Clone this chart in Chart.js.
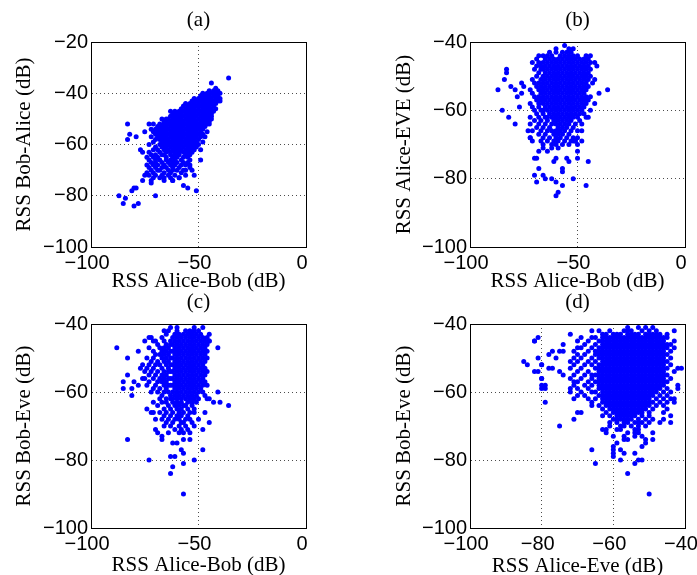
<!DOCTYPE html>
<html><head><meta charset="utf-8">
<script src="https://cdn.jsdelivr.net/npm/chart.js@4/dist/chart.umd.min.js"></script>
<style>
html,body{margin:0;padding:0;background:#fff;overflow:hidden;width:697px;height:575px;position:relative;}
canvas{position:absolute;}
</style></head><body>
<canvas id="pa" width="348" height="300" style="left:0px;top:0px"></canvas>
<canvas id="pb" width="349" height="300" style="left:348px;top:0px"></canvas>
<canvas id="pc" width="348" height="300" style="left:0px;top:280px"></canvas>
<canvas id="pd" width="349" height="300" style="left:348px;top:280px"></canvas>
<script>
// ---------- data (dB) ----------
const panelTitles = ['(a)', '(b)', '(c)', '(d)'];
const xAxisLabels = ['RSS Alice-Bob (dB)', 'RSS Alice-Bob (dB)', 'RSS Alice-Bob (dB)', 'RSS Alice-Eve (dB)'];
const yAxisLabels = ['RSS Bob-Alice (dB)', 'RSS Alice-EVE (dB)', 'RSS Bob-Eve (dB)', 'RSS Bob-Eve (dB)'];
const xRanges = [[-100, 0, 50], [-100, 0, 50], [-100, 0, 50], [-100, -40, 20]];
const yRanges = [[-100, -20, 20], [-100, -40, 20], [-100, -40, 20], [-100, -40, 20]];

// (a) Alice-Bob vs Bob-Alice : rows of [y, x values]
const coreRowsA = [
 [-39,[-45,-43,-41]],
 [-40,[-48,-46,-44,-42,-40]],
 [-41,[-49,-47,-45,-43,-41]],
 [-42,[-52,-50,-48,-46,-44,-42,-40]],
 [-43,[-53,-51,-49,-47,-45,-43,-41]],
 [-44,[-56,-54,-52,-50,-48,-46,-44,-42]],
 [-45,[-57,-55,-53,-51,-49,-47,-45,-43]],
 [-46,[-58,-56,-54,-52,-50,-48,-46,-44,-42]],
 [-47,[-61,-59,-57,-55,-53,-51,-49,-47,-45,-43]],
 [-48,[-62,-60,-58,-56,-54,-52,-50,-48,-46,-44]],
 [-49,[-63,-61,-59,-57,-55,-53,-51,-49,-47,-45]],
 [-50,[-67,-64,-62,-60,-58,-56,-54,-52,-50,-48,-46,-44]],
 [-51,[-66,-65,-63,-61,-59,-57,-55,-53,-51,-49,-47,-45]],
 [-52,[-71,-68,-66,-64,-62,-60,-58,-56,-54,-52,-50,-48,-46]],
 [-53,[-69,-67,-65,-63,-61,-59,-57,-55,-53,-51,-49,-47]],
 [-54,[-72,-70,-68,-66,-64,-62,-60,-58,-56,-54,-52,-50,-48]],
 [-55,[-71,-69,-67,-65,-63,-61,-59,-57,-55,-53,-51,-49]],
 [-56,[-70,-68,-66,-64,-62,-60,-58,-56,-54,-52,-50,-48]],
 [-57,[-72,-69,-67,-65,-63,-61,-59,-57,-55,-53,-51,-49]],
 [-58,[-70,-68,-66,-64,-62,-60,-58,-56,-54,-52,-50]],
 [-59,[-71,-67,-65,-63,-61,-59,-57,-55,-53,-51]],
 [-60,[-73,-68,-66,-64,-62,-60,-58,-56,-54,-52,-50]],
 [-61,[-70,-67,-65,-63,-61,-59,-57,-55,-53,-51]],
 [-62,[-71,-69,-66,-64,-62,-60,-58,-56,-54,-52]],
 [-63,[-73,-68,-65,-63,-61,-59,-57,-55,-53]],
 [-64,[-72,-70,-67,-66,-63,-61,-59,-56,-54]],
 [-65,[-74,-71,-69,-65,-62,-60,-57,-55]],
 [-66,[-73,-70,-68,-65,-63,-61,-58,-54]],
 [-67,[-72,-70,-67,-64,-62,-60,-57,-55]],
 [-68,[-74,-71,-69,-66,-63,-61,-58,-56,-54]],
 [-69,[-73,-70,-67,-65,-62,-59]],
 [-70,[-72,-69,-68,-64,-62,-60,-57,-56]],
 [-71,[-74,-71,-66,-63,-58]],
 [-72,[-73,-70,-67,-64,-61,-56]],
 [-73,[-71,-68,-63,-59]],
 [-74,[-72,-66,-62]]
];
const scatterA = [[-36,-34],[-44,-36],[-40,-43],[-42,-38],[-83,-52],[-82,-56],[-83,-58],[-79,-57],[-75,-55],[-73,-52],
 [-77,-62],[-76,-63],[-87,-80],[-84,-81],[-85,-83],[-80,-84],[-78,-83],[-81,-78],[-80,-77],[-79,-77],[-70,-80],
 [-76,-74],[-75,-72],[-57,-76],[-55,-77],[-51,-78],[-62,-74],[-72,-75],[-66,-73],[-49,-66],[-49,-62],[-48,-59],
 [-54,-69],[-53,-70],[-45,-52],[-46,-55],[-47,-57],[-63,-47],[-65,-50],[-44,-49],[-52,-72],[-59,-73]];

// (b) Alice-Bob vs Alice-EVE
const coreRowsB = [
 [-42,[-60,-54,-52]],
 [-43,[-63,-57,-55,-53]],
 [-44,[-68,-66,-62,-58,-56,-54,-52,-50,-46]],
 [-45,[-69,-65,-63,-61,-59,-57,-55,-53,-51,-49,-47,-45]],
 [-46,[-71,-68,-66,-64,-62,-60,-58,-56,-54,-52,-50,-48,-46,-44]],
 [-47,[-69,-67,-65,-63,-61,-59,-57,-55,-53,-51,-49,-47,-45]],
 [-48,[-70,-67,-66,-64,-62,-60,-58,-56,-54,-52,-50,-48,-46,-44]],
 [-49,[-68,-65,-63,-61,-59,-57,-55,-53,-51,-49,-47,-45]],
 [-50,[-69,-66,-64,-62,-60,-58,-56,-54,-52,-50,-48,-46,-44]],
 [-51,[-71,-67,-65,-63,-61,-59,-57,-55,-53,-51,-49,-47,-45]],
 [-52,[-70,-68,-66,-64,-62,-60,-58,-56,-54,-52,-50,-48,-46,-43]],
 [-53,[-69,-67,-65,-63,-61,-59,-57,-55,-53,-51,-49,-47,-45]],
 [-54,[-72,-68,-66,-64,-62,-60,-58,-56,-54,-52,-50,-48,-46]],
 [-55,[-71,-67,-65,-63,-61,-59,-57,-55,-53,-51,-49,-47]],
 [-56,[-70,-68,-66,-64,-62,-60,-58,-56,-54,-52,-50,-48,-46,-44]],
 [-57,[-69,-67,-65,-63,-61,-59,-57,-55,-53,-51,-49,-47,-45]],
 [-58,[-72,-68,-66,-64,-62,-60,-58,-56,-54,-52,-50,-48,-46]],
 [-59,[-71,-68,-65,-63,-61,-59,-57,-55,-53,-51,-49,-47]],
 [-60,[-70,-67,-66,-64,-62,-60,-58,-56,-54,-52,-50,-48,-44]],
 [-61,[-69,-66,-63,-61,-59,-57,-55,-53,-51,-49,-47]],
 [-62,[-72,-68,-65,-64,-62,-60,-58,-56,-54,-52,-50,-46]],
 [-63,[-70,-67,-64,-61,-59,-57,-55,-53,-49]],
 [-64,[-72,-68,-65,-62,-60,-58,-56,-54,-51,-48]],
 [-65,[-69,-66,-63,-59,-57,-55,-52]],
 [-66,[-71,-67,-64,-62,-60,-58,-56,-53,-50]],
 [-67,[-68,-65,-61,-59,-57,-54]],
 [-68,[-72,-66,-63,-60,-58,-55,-52]],
 [-69,[-67,-64,-61,-59,-56,-53,-51]],
 [-70,[-66,-62,-60,-57,-54,-50]]
];
const scatterB = [[-56,-41],[-87,-54],[-85,-60],[-83,-48],[-83,-49],[-84,-51],[-81,-53],[-79,-54],[-82,-62],[-79,-64],
 [-77,-59],[-78,-56],[-76,-55],[-75,-53],[-76,-52],[-73,-66],[-71,-69],[-72,-68],[-36,-54],[-40,-55],[-42,-51],
 [-41,-47],[-42,-58],[-45,-62],[-48,-66],[-48,-69],[-45,-75],[-46,-82],[-52,-80],[-50,-72],[-50,-74],[-60,-85],
 [-59,-84],[-57,-82],[-60,-81],[-62,-80],[-69,-81],[-70,-79],[-66,-79],[-65,-80],[-68,-77],[-57,-77],[-57,-78],
 [-60,-74],[-61,-75],[-70,-74],[-69,-74],[-68,-72],[-55,-74],[-54,-75],[-66,-71],[-64,-72],[-62,-71],[-59,-71],
 [-52,-69],[-51,-69],[-50,-68],[-64,-44],[-60,-43],[-44,-44],[-42,-46]];

// (c) Alice-Bob vs Bob-Eve
const coreRowsC = [
 [-42,[-66,-64,-60,-56,-54,-52,-50]],
 [-43,[-65,-61,-59,-57,-55,-53,-51,-49]],
 [-44,[-72,-67,-62,-60,-58,-56,-54,-52,-50,-48,-46]],
 [-45,[-70,-66,-63,-61,-59,-57,-55,-53,-51,-49,-47,-45]],
 [-46,[-69,-65,-63,-62,-60,-58,-56,-54,-52,-50,-48,-46]],
 [-47,[-73,-68,-66,-64,-61,-59,-57,-55,-53,-51,-49,-47]],
 [-48,[-71,-67,-65,-63,-62,-60,-58,-56,-54,-52,-50,-48,-46]],
 [-49,[-70,-68,-66,-64,-61,-59,-57,-55,-53,-51,-49,-47]],
 [-50,[-74,-71,-67,-65,-63,-62,-60,-58,-56,-54,-52,-50,-48,-46]],
 [-51,[-72,-69,-66,-64,-61,-59,-57,-55,-53,-51,-49,-47]],
 [-52,[-76,-73,-70,-68,-65,-63,-62,-60,-58,-56,-54,-52,-50,-48]],
 [-53,[-74,-71,-67,-64,-61,-59,-57,-55,-53,-51,-49,-47]],
 [-54,[-75,-72,-69,-66,-64,-63,-62,-60,-58,-56,-54,-52,-50,-48,-46]],
 [-55,[-73,-70,-67,-65,-61,-59,-57,-55,-53,-51,-49,-47]],
 [-56,[-76,-71,-68,-66,-64,-63,-62,-60,-58,-56,-54,-52,-50,-48]],
 [-57,[-73,-69,-67,-65,-61,-59,-57,-55,-53,-51,-49,-47]],
 [-58,[-74,-70,-66,-64,-63,-62,-60,-58,-56,-54,-52,-50,-48,-46]],
 [-59,[-71,-68,-65,-61,-59,-57,-55,-53,-51,-49]],
 [-60,[-72,-69,-66,-64,-62,-60,-58,-56,-54,-52,-50,-48]],
 [-61,[-67,-63,-61,-59,-57,-55,-53,-51,-47]],
 [-62,[-68,-65,-63,-62,-60,-58,-56,-54,-52,-50,-46]],
 [-63,[-67,-65,-62,-60,-58,-55,-53,-51]],
 [-64,[-69,-64,-61,-59,-57,-56,-53]],
 [-65,[-66,-63,-60,-58,-55,-52]],
 [-66,[-68,-65,-62,-59,-57,-54,-52]],
 [-67,[-66,-63,-60,-58,-55]],
 [-68,[-67,-64,-61,-59,-56,-54]],
 [-69,[-65,-62,-58,-57,-53]],
 [-70,[-66,-63,-59,-56,-52]],
 [-71,[-61,-58,-55]],
 [-72,[-64,-59,-57,-54]]
];
const scatterC = [[-88,-47],[-83,-50],[-78,-48],[-83,-55],[-85,-57],[-85,-59],[-81,-59],[-80,-57],[-81,-61],[-83,-74],
 [-73,-80],[-63,-84],[-57,-90],[-62,-82],[-61,-79],[-63,-79],[-57,-81],[-52,-80],[-48,-77],[-57,-78],[-58,-77],
 [-62,-75],[-60,-75],[-57,-74],[-54,-74],[-67,-74],[-67,-73],[-70,-71],[-69,-72],[-74,-65],[-72,-66],[-71,-66],
 [-48,-71],[-45,-69],[-36,-64],[-40,-63],[-43,-63],[-41,-60],[-45,-62],[-47,-66],[-50,-68],[-41,-47],[-45,-43],
 [-45,-45],[-63,-41],[-60,-41],[-52,-41],[-48,-41],[-75,-45],[-73,-44],[-71,-45],[-77,-53],[-75,-56],[-78,-58],
 [-71,-63],[-70,-68]];

// (d) Alice-Eve vs Bob-Eve
const coreRowsD = [
 [-41,[-56,-53,-51,-49]],
 [-42,[-66,-64,-61,-57,-56,-55,-52,-50,-48,-43]],
 [-43,[-72,-63,-62,-60,-59,-58,-56,-55,-54,-53,-51,-50,-49,-48,-47,-45]],
 [-44,[-81,-69,-66,-65,-63,-62,-61,-60,-59,-58,-57,-56,-55,-54,-53,-52,-51,-50,-49,-48,-47,-46,-45]],
 [-45,[-82,-70,-67,-64,-63,-62,-61,-60,-59,-58,-57,-56,-55,-54,-53,-52,-51,-50,-49,-48,-47,-46,-43]],
 [-46,[-74,-68,-65,-63,-62,-61,-60,-59,-58,-57,-56,-55,-54,-53,-52,-51,-50,-49,-48,-47,-46,-45,-44]],
 [-47,[-70,-69,-66,-64,-63,-62,-61,-60,-59,-58,-57,-56,-55,-54,-53,-52,-51,-50,-49,-48,-47,-46,-45,-43]],
 [-48,[-77,-75,-74,-71,-67,-65,-64,-63,-62,-61,-60,-59,-58,-57,-56,-55,-54,-53,-52,-51,-50,-49,-48,-47,-46,-44]],
 [-49,[-78,-70,-68,-65,-64,-63,-62,-61,-60,-59,-58,-57,-56,-55,-54,-53,-52,-51,-50,-49,-48,-47,-46,-45]],
 [-50,[-81,-76,-71,-69,-66,-64,-63,-62,-61,-60,-59,-58,-57,-56,-55,-54,-53,-52,-51,-50,-49,-48,-47,-46,-44]],
 [-51,[-85,-72,-70,-67,-65,-63,-62,-61,-60,-59,-58,-57,-56,-55,-54,-53,-52,-51,-50,-49,-48,-47,-46,-45]],
 [-52,[-84,-80,-71,-68,-66,-64,-63,-62,-61,-60,-59,-58,-57,-56,-55,-54,-53,-52,-51,-50,-49,-48,-47,-46,-44]],
 [-53,[-78,-77,-72,-69,-65,-64,-63,-62,-61,-60,-59,-58,-57,-56,-55,-54,-53,-52,-51,-50,-49,-48,-47,-46,-45,-42,-41]],
 [-54,[-82,-81,-75,-70,-67,-64,-63,-62,-61,-60,-59,-58,-57,-56,-55,-54,-53,-52,-51,-50,-49,-48,-47,-46,-43]],
 [-55,[-74,-71,-68,-66,-65,-64,-63,-62,-61,-60,-59,-58,-57,-56,-55,-54,-53,-52,-51,-50,-49,-48,-47,-46,-45]],
 [-56,[-80,-72,-69,-66,-64,-63,-62,-61,-60,-59,-58,-57,-56,-55,-54,-53,-52,-51,-50,-49,-48,-47,-46,-44]],
 [-57,[-71,-70,-67,-65,-64,-63,-62,-61,-60,-59,-58,-57,-56,-55,-54,-53,-52,-51,-50,-49,-48,-47,-46,-45]],
 [-58,[-80,-71,-68,-66,-64,-63,-62,-61,-60,-59,-58,-57,-56,-55,-54,-53,-52,-51,-50,-49,-48,-47,-46,-42]],
 [-59,[-79,-72,-70,-67,-64,-63,-62,-61,-60,-59,-58,-57,-56,-55,-54,-53,-52,-51,-50,-49,-48,-47,-45,-42]],
 [-60,[-72,-69,-66,-65,-63,-62,-61,-60,-59,-58,-57,-56,-55,-54,-53,-52,-51,-50,-49,-48,-46,-44]],
 [-61,[-70,-68,-64,-63,-62,-61,-60,-59,-58,-57,-56,-55,-54,-53,-52,-51,-50,-49,-47,-45]],
 [-62,[-71,-67,-65,-63,-62,-61,-60,-59,-58,-57,-56,-55,-54,-53,-52,-51,-50,-48,-46,-44,-43]],
 [-63,[-79,-66,-63,-62,-61,-60,-59,-58,-57,-56,-55,-54,-53,-52,-51,-50,-49,-47,-45,-43]],
 [-64,[-66,-64,-62,-61,-60,-59,-58,-57,-56,-55,-54,-53,-52,-51,-50,-48,-46]],
 [-65,[-63,-61,-60,-59,-58,-57,-56,-55,-54,-53,-52,-51,-49,-45]],
 [-66,[-70,-69,-62,-60,-59,-58,-57,-56,-55,-54,-53,-52,-50,-46]],
 [-67,[-63,-61,-59,-58,-57,-56,-55,-54,-52,-50,-44]],
 [-68,[-71,-60,-59,-58,-57,-56,-55,-53,-51,-49,-46]],
 [-69,[-61,-59,-57,-56,-54,-53,-52,-50,-47,-44]],
 [-70,[-75,-61,-58,-57,-55,-53,-51]],
 [-71,[-63,-62,-59,-58,-54,-53]],
 [-72,[-62,-56,-54,-53,-49]],
 [-73,[-60,-57,-54,-52]],
 [-74,[-57,-56,-51,-49]],
 [-75,[-59,-51]],
 [-76,[-60,-52]],
 [-77,[-66,-60,-58]],
 [-78,[-60,-57,-54]],
 [-79,[-60]],
 [-80,[-58,-53,-52]],
 [-81,[-65,-54]],
 [-84,[-56]],
 [-90,[-50]]
];
const scatterD = [[-82,-45],[-80,-56],[-79,-58],[-80,-59],[-80,-52]];

// ---------- build ----------
function toPoints(rows, extra) {
  const pts = [];
  rows.forEach(([y, xs]) => xs.forEach(x => pts.push({x: x, y: y})));
  extra.forEach(([x, y]) => pts.push({x: x, y: y}));
  return pts;
}
const pointSets = [toPoints(coreRowsA, scatterA), toPoints(coreRowsB, scatterB),
                   toPoints(coreRowsC, scatterC), toPoints(coreRowsD, scatterD)];

const fmt = v => (v < 0 ? '\u2212' + Math.abs(v) : String(v));
const tickFont = {family: 'Liberation Sans', size: 20};
const titleFont = {family: 'Liberation Serif', size: 21};
const HALF = 21 * 1.2 / 2;

// layout of each panel (absolute page pixels)
const layouts = [
  {id: 'pa', cl: 0,   ct: 0,   W: 348, H: 300, l: 91,  t: 42,  r: 306, b: 247, ytx: 24,  tty: 20,  xty: 281},
  {id: 'pb', cl: 348, ct: 0,   W: 349, H: 300, l: 470, t: 42,  r: 685, b: 247, ytx: 404, tty: 20,  xty: 281},
  {id: 'pc', cl: 0,   ct: 280, W: 348, H: 300, l: 91,  t: 324, r: 306, b: 528, ytx: 24,  tty: 302, xty: 565},
  {id: 'pd', cl: 348, ct: 280, W: 349, H: 300, l: 470, t: 324, r: 685, b: 528, ytx: 404, tty: 302, xty: 566}
];

layouts.forEach((L, i) => {
  const lRel = L.l - L.cl, tRel = L.t - L.ct, rRel = L.r - L.cl, bRel = L.b - L.ct;
  const xr = xRanges[i], yr = yRanges[i];
  const frame = {display: true, color: '#000', width: 1};
  new Chart(document.getElementById(L.id), {
    type: 'scatter',
    data: {datasets: [{
      data: pointSets[i], xAxisID: 'x', yAxisID: 'y',
      backgroundColor: '#0000ff', borderColor: '#0000ff',
      pointRadius: 2.5, pointHoverRadius: 2.5, pointBorderWidth: 0, borderWidth: 0
    }]},
    options: {
      responsive: false, animation: false, devicePixelRatio: 1, events: [],
      layout: {padding: {left: 0, top: 0, right: L.W - rRel, bottom: 0}},
      plugins: {legend: {display: false}, tooltip: {enabled: false}},
      scales: {
        x: {
          type: 'linear', position: 'bottom', min: xr[0], max: xr[1],
          ticks: {stepSize: xr[2], font: tickFont, color: '#000', padding: 4, labelOffset: -4,
                  maxRotation: 0, autoSkip: false, callback: v => fmt(v)},
          grid: {color: 'rgba(0,0,0,0.7)', lineWidth: 1, drawTicks: false},
          border: {display: true, color: '#000', width: 1, dash: [1, 3]},
          title: {display: true, text: xAxisLabels[i], font: titleFont, color: '#000',
                  padding: {top: 0, bottom: L.H - (L.xty - L.ct) - HALF}},
          afterFit: s => { s.height = L.H - bRel; s.paddingLeft = 0; s.paddingRight = 0; }
        },
        y: {
          type: 'linear', position: 'left', min: yr[0], max: yr[1],
          ticks: {stepSize: yr[2], font: tickFont, color: '#000', padding: 3, autoSkip: false, callback: v => fmt(v)},
          grid: {color: 'rgba(0,0,0,0.7)', lineWidth: 1, drawTicks: false},
          border: {display: true, color: '#000', width: 1, dash: [1, 3]},
          title: {display: true, text: yAxisLabels[i], font: titleFont, color: '#000',
                  padding: {top: (L.ytx - L.cl) - HALF, bottom: 0}},
          afterFit: s => { s.width = lRel; s.paddingTop = 0; s.paddingBottom = 0; }
        },
        xTop: {
          type: 'linear', position: 'top', min: xr[0], max: xr[1],
          ticks: {display: false}, grid: {display: false}, border: frame,
          title: {display: true, text: panelTitles[i], font: titleFont, color: '#000',
                  padding: {top: (L.tty - L.ct) - HALF, bottom: 0}},
          afterFit: s => { s.height = tRel; s.paddingLeft = 0; s.paddingRight = 0; }
        },
        yRight: {
          type: 'linear', position: 'right', min: yr[0], max: yr[1],
          ticks: {display: false}, grid: {display: false}, border: frame,
          afterFit: s => { s.width = 0; s.paddingTop = 0; s.paddingBottom = 0; }
        }
      }
    }
  });
});
</script>
</body></html>
